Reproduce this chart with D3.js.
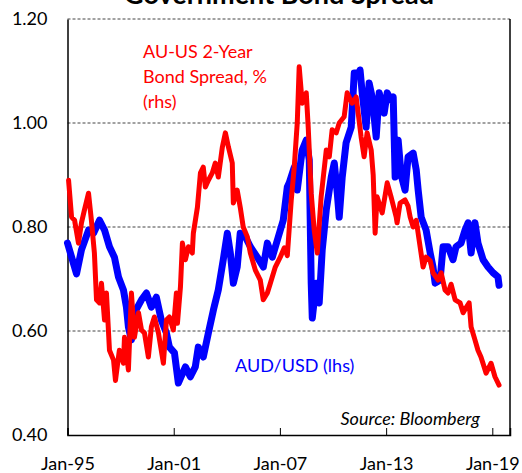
<!DOCTYPE html>
<html>
<head>
<meta charset="utf-8">
<script src="https://cdn.jsdelivr.net/npm/d3@7.9.0/dist/d3.min.js"></script>
<style>
  body { margin: 0; background: #fff; }
  svg { display: block; font-family: Lato, "Open Sans", sans-serif; }
</style>
</head>
<body>
<div id="chart"></div>
<script>
// AUD/USD (lhs), decimal year -> level
const audusd = [
  [1995.00, 0.769], [1995.51, 0.710], [1995.79, 0.756], [1996.19, 0.794], [1996.47, 0.788],
  [1996.81, 0.813], [1997.09, 0.794], [1997.37, 0.762], [1997.65, 0.742], [1997.88, 0.704],
  [1998.16, 0.679], [1998.33, 0.646], [1998.44, 0.608], [1998.61, 0.583], [1998.78, 0.635],
  [1999.18, 0.660], [1999.46, 0.673], [1999.74, 0.646], [2000.02, 0.665], [2000.30, 0.621],
  [2000.59, 0.596], [2000.76, 0.569], [2001.04, 0.558], [2001.26, 0.500], [2001.66, 0.531],
  [2001.94, 0.512], [2002.22, 0.531], [2002.39, 0.569], [2002.67, 0.550], [2002.96, 0.596],
  [2003.24, 0.640], [2003.52, 0.679], [2003.80, 0.737], [2004.03, 0.788], [2004.20, 0.750],
  [2004.37, 0.692], [2004.59, 0.723], [2004.76, 0.788], [2005.05, 0.781], [2005.33, 0.762],
  [2005.72, 0.742], [2006.06, 0.723], [2006.29, 0.769], [2006.57, 0.742], [2006.91, 0.781],
  [2007.19, 0.813], [2007.42, 0.877], [2007.53, 0.885], [2007.81, 0.915], [2007.98, 0.871],
  [2008.26, 0.948], [2008.49, 0.967], [2008.66, 0.929], [2008.77, 0.692], [2008.83, 0.625],
  [2009.05, 0.692], [2009.22, 0.654], [2009.39, 0.756], [2009.62, 0.833], [2009.90, 0.896],
  [2010.07, 0.923], [2010.24, 0.865], [2010.35, 0.819], [2010.52, 0.896], [2010.74, 0.962],
  [2011.03, 0.992], [2011.20, 1.096], [2011.48, 1.096], [2011.53, 1.102], [2011.65, 1.058],
  [2011.87, 0.992], [2012.04, 1.077], [2012.21, 1.050], [2012.44, 0.973], [2012.61, 1.058],
  [2012.89, 1.019], [2013.06, 1.058], [2013.28, 1.044], [2013.40, 1.050], [2013.51, 0.896],
  [2013.68, 0.967], [2013.85, 0.900], [2014.07, 0.871], [2014.24, 0.935], [2014.53, 0.942],
  [2014.70, 0.910], [2014.81, 0.871], [2014.98, 0.819], [2015.26, 0.794], [2015.49, 0.750],
  [2015.65, 0.723], [2015.77, 0.692], [2016.05, 0.698], [2016.22, 0.762], [2016.50, 0.762],
  [2016.78, 0.737], [2016.95, 0.762], [2017.23, 0.769], [2017.46, 0.794], [2017.63, 0.808],
  [2017.80, 0.750], [2018.02, 0.808], [2018.19, 0.769], [2018.48, 0.737], [2018.76, 0.723],
  [2019.04, 0.712], [2019.32, 0.704], [2019.38, 0.688]
];

// AU-US 2-year bond spread (rhs), read off in left-axis units since the rhs scale is not shown
const spread = [
  [1995.06, 0.890], [1995.23, 0.819], [1995.40, 0.813], [1995.62, 0.769], [1995.79, 0.808],
  [1995.96, 0.833], [1996.19, 0.865], [1996.35, 0.813], [1996.52, 0.750], [1996.64, 0.660],
  [1996.81, 0.654], [1996.92, 0.692], [1997.09, 0.621], [1997.20, 0.673], [1997.37, 0.563],
  [1997.60, 0.544], [1997.71, 0.505], [1997.93, 0.563], [1998.16, 0.538], [1998.22, 0.588],
  [1998.44, 0.525], [1998.61, 0.673], [1998.78, 0.588], [1999.01, 0.635], [1999.18, 0.602],
  [1999.35, 0.596], [1999.57, 0.550], [1999.74, 0.608], [1999.91, 0.627], [2000.14, 0.596],
  [2000.42, 0.538], [2000.59, 0.621], [2000.76, 0.627], [2000.98, 0.602], [2001.15, 0.673],
  [2001.21, 0.615], [2001.38, 0.685], [2001.49, 0.769], [2001.66, 0.737], [2001.83, 0.762],
  [2002.05, 0.750], [2002.11, 0.788], [2002.34, 0.838], [2002.51, 0.904], [2002.67, 0.915],
  [2002.79, 0.877], [2002.96, 0.890], [2003.18, 0.904], [2003.35, 0.923], [2003.52, 0.896],
  [2003.75, 0.954], [2003.92, 0.981], [2004.09, 0.954], [2004.31, 0.923], [2004.37, 0.846],
  [2004.59, 0.871], [2004.76, 0.838], [2004.93, 0.800], [2005.16, 0.781], [2005.33, 0.750],
  [2005.61, 0.717], [2005.89, 0.698], [2006.06, 0.660], [2006.29, 0.673], [2006.46, 0.692],
  [2006.74, 0.723], [2007.02, 0.742], [2007.25, 0.760], [2007.42, 0.745], [2007.64, 0.852],
  [2007.81, 0.915], [2007.98, 1.000], [2008.09, 1.108], [2008.26, 1.038], [2008.49, 1.058],
  [2008.60, 0.992], [2008.77, 0.865], [2008.94, 0.794], [2009.11, 0.750], [2009.33, 0.858],
  [2009.62, 0.948], [2009.79, 0.935], [2009.95, 0.987], [2010.18, 0.981], [2010.35, 1.000],
  [2010.63, 1.012], [2010.80, 1.058], [2011.08, 1.038], [2011.31, 1.050], [2011.59, 0.973],
  [2011.76, 0.935], [2011.93, 0.981], [2012.16, 0.948], [2012.27, 0.900], [2012.38, 0.788],
  [2012.49, 0.858], [2012.78, 0.827], [2013.06, 0.885], [2013.28, 0.858], [2013.57, 0.819],
  [2013.62, 0.808], [2013.79, 0.846], [2014.07, 0.852], [2014.24, 0.840], [2014.36, 0.819],
  [2014.53, 0.800], [2014.70, 0.813], [2014.92, 0.762], [2015.09, 0.723], [2015.26, 0.742],
  [2015.49, 0.735], [2015.65, 0.712], [2015.94, 0.698], [2016.11, 0.712], [2016.33, 0.679],
  [2016.50, 0.673], [2016.67, 0.690], [2016.90, 0.660], [2017.18, 0.654], [2017.35, 0.635],
  [2017.52, 0.645], [2017.69, 0.654], [2017.80, 0.608], [2018.02, 0.583], [2018.19, 0.563],
  [2018.36, 0.550], [2018.65, 0.519], [2018.93, 0.538], [2019.15, 0.512], [2019.38, 0.496]
];

const yTicks = [0.4, 0.6, 0.8, 1.0, 1.2];
const xTickYears = [1995, 2001, 2007, 2013, 2019];
const title = "Government Bond Spread";
const spreadLabel = ["AU-US 2-Year", "Bond Spread, %", "(rhs)"];
const audLabel = "AUD/USD (lhs)";
const sourceLabel = "Source: Bloomberg";

const width = 522, height = 473;
const margin = { top: 19, right: 12, bottom: 38, left: 67.5 };

function toDate(dy) {
  const y = Math.floor(dy);
  return new Date(y, 0, 1 + Math.round((dy - y) * 365));
}

const svg = d3.select("#chart").append("svg")
  .attr("width", width)
  .attr("height", height);

const x = d3.scaleTime()
  .domain([new Date(1995, 0, 1), new Date(2020, 0, 1)])
  .range([margin.left, width - margin.right]);

const y = d3.scaleLinear()
  .domain([0.4, 1.2])
  .range([height - margin.bottom, margin.top]);

// title, cropped at the top edge as in the source image
svg.append("text")
  .attr("x", 279)
  .attr("y", 4)
  .attr("text-anchor", "middle")
  .style("font-size", "27px")
  .style("font-weight", "bold")
  .text(title);

// dashed gridlines
svg.append("g")
  .selectAll("line")
  .data(yTicks.filter(d => d > 0.4))
  .join("line")
  .attr("x1", margin.left)
  .attr("x2", width - margin.right)
  .attr("y1", d => y(d))
  .attr("y2", d => y(d))
  .attr("stroke", "#444")
  .attr("stroke-width", 1)
  .attr("stroke-dasharray", "3,2");

// right border
svg.append("line")
  .attr("x1", width - margin.right).attr("x2", width - margin.right)
  .attr("y1", margin.top).attr("y2", height - margin.bottom)
  .attr("stroke", "#000").attr("stroke-width", 1.5);

// y axis
const yAxis = svg.append("g")
  .attr("transform", `translate(${margin.left},0)`)
  .call(d3.axisLeft(y).tickValues(yTicks).tickFormat(d3.format(".2f")).tickSize(0).tickPadding(20));
yAxis.select(".domain").attr("stroke", "#000").attr("stroke-width", 1.5);
yAxis.selectAll("text").style("font-size", "18px").style("font-family", "Lato, sans-serif").attr("fill", "#000");

// x axis, ticks pointing inward
const xAxis = svg.append("g")
  .attr("transform", `translate(0,${height - margin.bottom})`)
  .call(d3.axisBottom(x)
    .tickValues(xTickYears.map(d => new Date(d, 0, 1)))
    .tickFormat(d3.timeFormat("Jan-%y"))
    .tickSize(-7)
    .tickPadding(0));
xAxis.select(".domain").attr("stroke", "#000").attr("stroke-width", 1.5);
xAxis.selectAll(".tick line").attr("stroke", "#000");
xAxis.selectAll("text")
  .attr("y", 35)
  .attr("dy", 0)
  .style("font-size", "18px")
  .style("font-family", "Lato, sans-serif")
  .attr("fill", "#000");

const line = d3.line()
  .x(d => x(toDate(d[0])))
  .y(d => y(d[1]));

svg.append("path")
  .datum(audusd)
  .attr("fill", "none")
  .attr("stroke", "#0000ff")
  .attr("stroke-width", 7)
  .attr("stroke-linejoin", "round")
  .attr("stroke-linecap", "round")
  .attr("d", line);

svg.append("path")
  .datum(spread)
  .attr("fill", "none")
  .attr("stroke", "#ff0000")
  .attr("stroke-width", 5)
  .attr("stroke-linejoin", "round")
  .attr("stroke-linecap", "round")
  .attr("d", line);

// annotations
svg.append("text")
  .attr("x", 143)
  .attr("fill", "#ff0000")
  .style("font-size", "18px")
  .selectAll("tspan")
  .data(spreadLabel)
  .join("tspan")
  .attr("x", 143)
  .attr("y", (d, i) => 58 + i * 25)
  .text(d => d);

svg.append("text")
  .attr("x", 235)
  .attr("y", 372)
  .attr("fill", "#0000ff")
  .style("font-size", "18px")
  .text(audLabel);

svg.append("text")
  .attr("x", 480)
  .attr("y", 425)
  .attr("text-anchor", "end")
  .style("font-size", "18px")
  .style("font-style", "italic")
  .text(sourceLabel);
</script>
</body>
</html>
